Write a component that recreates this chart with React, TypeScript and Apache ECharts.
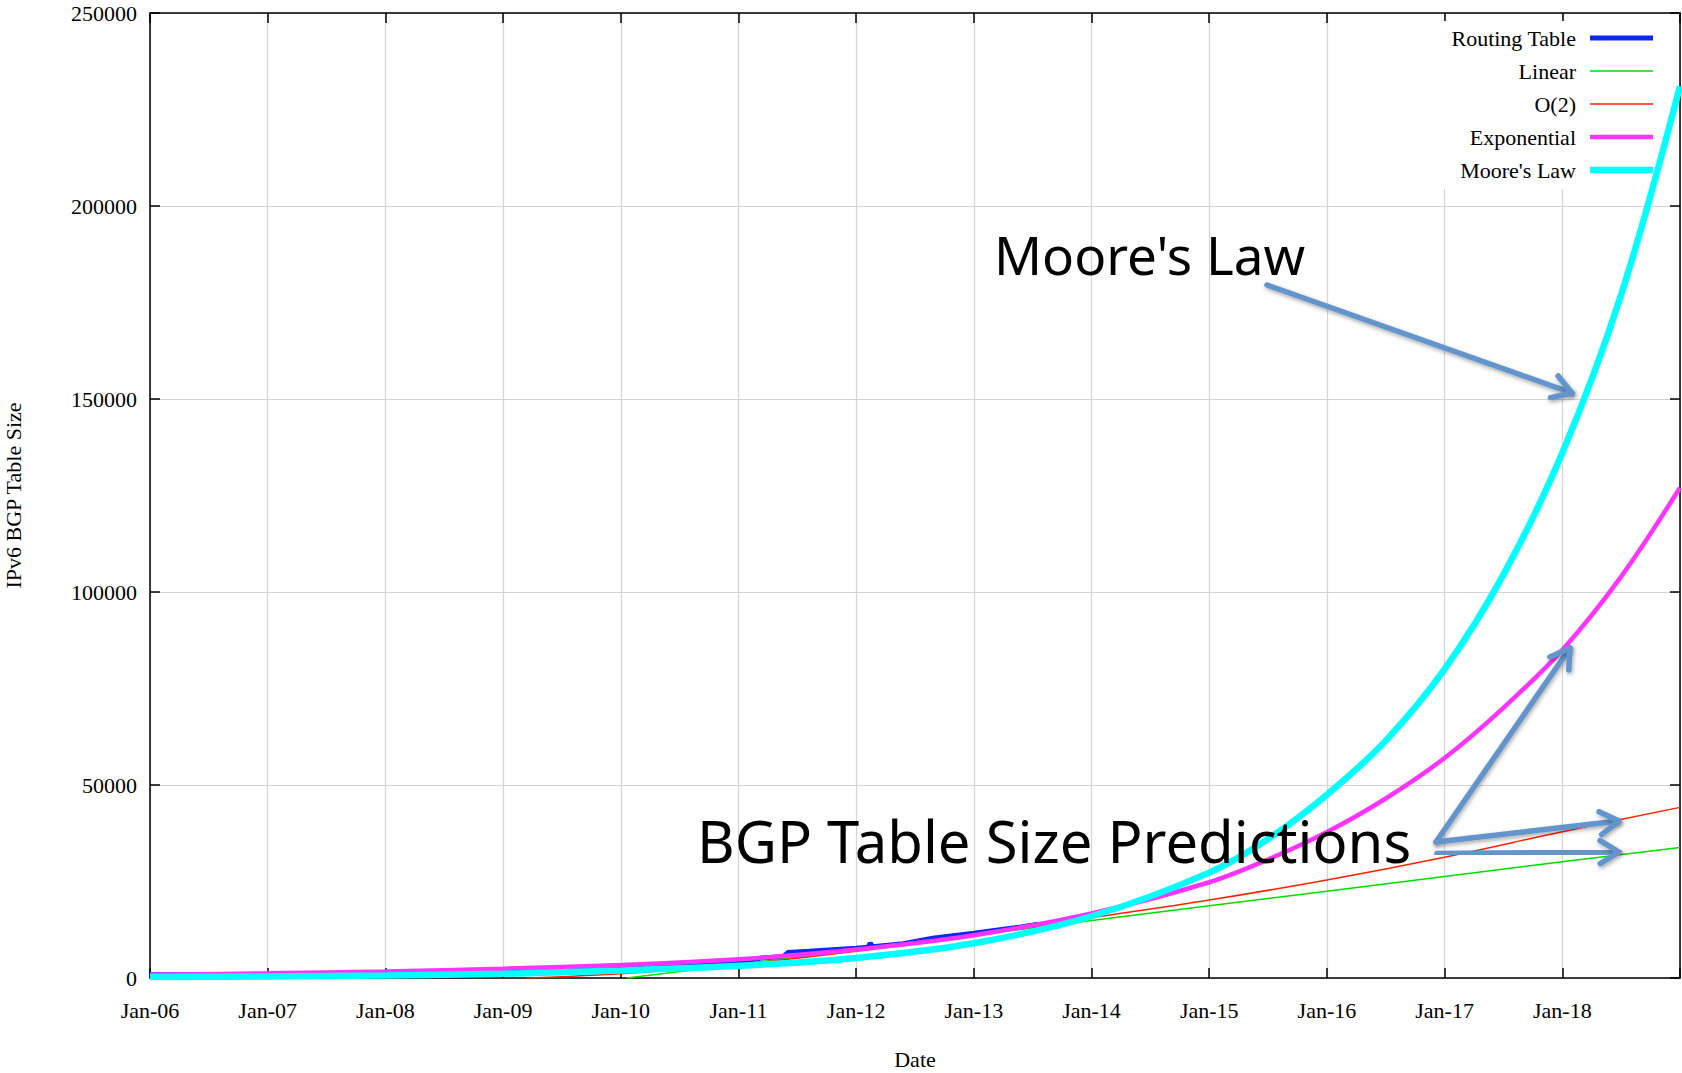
import React, { useEffect, useRef } from 'react';
import * as echarts from 'echarts';

// ---- axis definitions ----
const xTickLabels = ['Jan-06', 'Jan-07', 'Jan-08', 'Jan-09', 'Jan-10', 'Jan-11', 'Jan-12', 'Jan-13', 'Jan-14', 'Jan-15', 'Jan-16', 'Jan-17', 'Jan-18'];
const xStartYear = 2006;
const xEndYear = 2019;
const yMax = 250000;
const yInterval = 50000;

// ---- series data: [year, table size] ----
const routingTable: [number, number][] = [
  [2006.0, 850], [2006.5, 870], [2007.0, 900], [2007.5, 950], [2008.0, 1100], [2008.5, 1250],
  [2009.0, 1550], [2009.5, 1900], [2010.0, 2450], [2010.5, 3000], [2011.0, 3800], [2011.2, 5200],
  [2011.38, 5500], [2011.42, 6600], [2011.6, 6900], [2011.8, 7300], [2012.0, 7700], [2012.1, 8000],
  [2012.12, 9000], [2012.14, 8100], [2012.4, 8900], [2012.65, 10300], [2013.0, 11600], [2013.35, 13000],
  [2013.55, 13900],
];
const linear: [number, number][] = [
  [2010.05, 0], [2011, 3500], [2012, 7300], [2013, 11100], [2014, 14900], [2015, 18700],
  [2016, 22500], [2017, 26300], [2018, 30100], [2019, 33800],
];
const quadratic: [number, number][] = [
  [2009.2, 0], [2010, 1100], [2011, 3500], [2012, 6900], [2013, 11000], [2014, 15600],
  [2015, 20200], [2016, 25400], [2017, 31300], [2018, 37900], [2019, 44200],
];
const exponential: [number, number][] = [
  [2006, 850], [2007, 1200], [2008, 1700], [2009, 2400], [2010, 3350], [2011, 4850],
  [2012, 7400], [2013, 11100], [2014, 16700], [2015, 24800], [2015.5, 30700], [2016, 37800],
  [2016.5, 46500], [2017, 57000], [2017.5, 70000], [2018, 85000], [2018.5, 104000], [2019, 127000],
];
const mooresLaw: [number, number][] = [
  [2006, 250], [2007, 420], [2008, 650], [2009, 1100], [2010, 1950], [2011, 3150],
  [2012, 5200], [2013, 9000], [2014, 16000], [2015, 27300], [2015.5, 36000], [2016, 47500],
  [2016.5, 61500], [2017, 80000], [2017.5, 104500], [2018, 136000], [2018.5, 177000], [2019, 231000],
];

const seriesNames = ['Routing Table', 'Linear', 'O(2)', 'Exponential', "Moore's Law"];
const seriesColors = ['#0a28f0', '#00dd00', '#ff2200', '#ff33ff', '#00ffff'];
const seriesWidths = [5, 1.5, 1.5, 4.5, 6.5];
const seriesData = [routingTable, linear, quadratic, exponential, mooresLaw];

const SERIF = "'Liberation Serif', 'Times New Roman', serif";
const HAND = "'Noto Sans', 'DejaVu Sans', sans-serif";
const ARROW = '#6394cb';

function arrow(x1: number, y1: number, x2: number, y2: number) {
  const ang = Math.atan2(y2 - y1, x2 - x1);
  const len = 22;
  const spread = 0.55;
  const w1 = [x2 - len * Math.cos(ang - spread), y2 - len * Math.sin(ang - spread)];
  const w2 = [x2 - len * Math.cos(ang + spread), y2 - len * Math.sin(ang + spread)];
  const style = {
    stroke: ARROW, lineWidth: 5.5, lineCap: 'round', lineJoin: 'round', fill: null,
    shadowBlur: 4, shadowColor: 'rgba(0,0,0,0.35)', shadowOffsetX: 1, shadowOffsetY: 2,
  };
  return [
    { type: 'polyline', z: 100, shape: { points: [[x1, y1], [x2, y2]] }, style },
    { type: 'polyline', z: 100, shape: { points: [w1, [x2, y2], w2] }, style },
  ];
}

export default function App() {
  const ref = useRef<HTMLDivElement>(null);
  useEffect(() => {
    document.body.style.margin = '0';
    const chart = echarts.init(ref.current!, null, { renderer: 'svg' });
    const axisCommon = {
      type: 'value',
      axisLine: { show: true, onZero: false, lineStyle: { color: '#000', width: 1.5 } },
      axisTick: { show: true, inside: true, length: 10, lineStyle: { color: '#000', width: 1.5 } },
    };
    const option: any = {
      animation: false,
      backgroundColor: '#fff',
      grid: { left: 150, top: 13, width: 1530, height: 965, show: false, containLabel: false, outerBoundsMode: 'none' },
      legend: {
        orient: 'vertical', right: 4, top: 21, align: 'right', selectedMode: false,
        itemWidth: 63, itemHeight: 14, itemGap: 11, padding: [6, 25, 8, 10],
        backgroundColor: '#fff', z: 4,
        textStyle: { fontFamily: SERIF, fontSize: 22, lineHeight: 22, color: '#000', padding: [0, 9, 0, 0] },
        data: seriesNames.map((n, i) => ({
          name: n,
          icon: `path://M0,0H63V${seriesWidths[i]}H0Z`,
        })),
      },
      xAxis: [
        {
          ...axisCommon, position: 'bottom', min: xStartYear, max: xEndYear, interval: 1,
          name: 'Date', nameLocation: 'middle', nameGap: 70,
          nameTextStyle: { fontFamily: SERIF, fontSize: 22, color: '#000' },
          axisLabel: {
            margin: 21, fontFamily: SERIF, fontSize: 22, color: '#000',
            formatter: (v: number) => xTickLabels[Math.round(v - xStartYear)] ?? '',
          },
          splitLine: { show: true, lineStyle: { color: '#d4d4d4', width: 1.2 } },
        },
        {
          ...axisCommon, position: 'top', min: xStartYear, max: xEndYear, interval: 1,
          axisLabel: { show: false }, splitLine: { show: false },
        },
      ],
      yAxis: [
        {
          ...axisCommon, position: 'left', min: 0, max: yMax, interval: yInterval,
          name: 'IPv6 BGP Table Size', nameLocation: 'middle', nameGap: 126,
          nameTextStyle: { fontFamily: SERIF, fontSize: 22, color: '#000' },
          axisLabel: {
            margin: 13, fontFamily: SERIF, fontSize: 22, color: '#000',
            formatter: (v: number) => String(v),
          },
          splitLine: { show: true, lineStyle: { color: '#d4d4d4', width: 1.2 } },
        },
        {
          ...axisCommon, position: 'right', min: 0, max: yMax, interval: yInterval,
          axisLabel: { show: false }, splitLine: { show: false },
        },
      ],
      series: seriesNames.map((n, i) => ({
        name: n,
        type: 'line',
        data: seriesData[i],
        color: seriesColors[i],
        symbol: 'none',
        smooth: i === 0 || i === 1 ? false : 0.35,
        z: 5 + i,
        lineStyle: { color: seriesColors[i], width: seriesWidths[i] },
        clip: true,
      })),
      graphic: [
        {
          type: 'text', z: 100, x: 994, y: 254,
          style: { text: "Moore's Law", fontFamily: HAND, fontSize: 53, fill: '#000', verticalAlign: 'middle' },
        },
        {
          type: 'text', z: 100, x: 697, y: 840,
          style: { text: 'BGP Table Size Predictions', fontFamily: HAND, fontSize: 58, fill: '#000', verticalAlign: 'middle' },
        },
        ...arrow(1267, 285, 1572, 393),
        ...arrow(1436, 842, 1570, 648),
        ...arrow(1436, 842, 1619, 821),
        ...arrow(1437, 853.5, 1619, 852),
      ],
    };
    chart.setOption(option);
    return () => chart.dispose();
  }, []);
  return <div ref={ref} style={{ width: 1682, height: 1073 }} />;
}
